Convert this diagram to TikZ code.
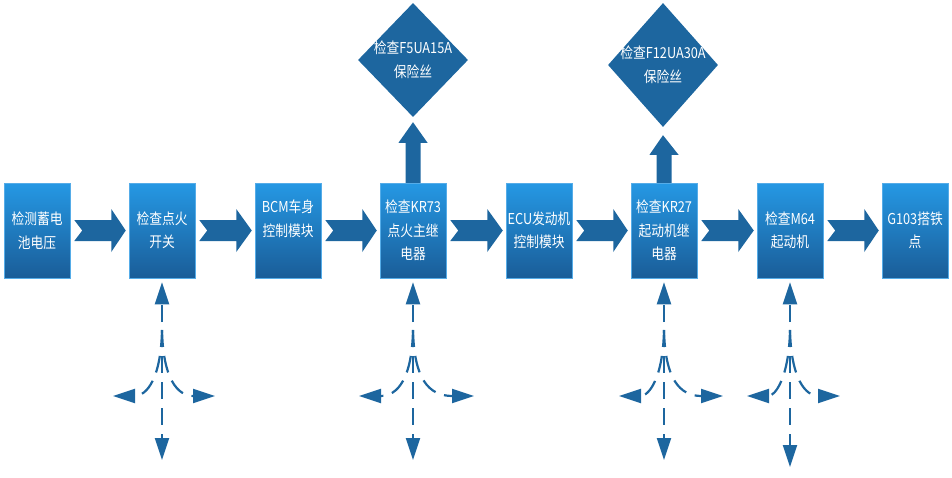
\documentclass[tikz,border=0pt]{standalone}
\usepackage{fontspec}
\setmainfont{Noto Sans CJK SC}[FakeStretch=0.85]
\usetikzlibrary{arrows.meta,shapes.geometric,calc}
\definecolor{arrowc}{HTML}{1D669F}
\definecolor{boxtop}{HTML}{2598E4}
\definecolor{boxbot}{HTML}{1A5D98}
\definecolor{boxedge}{HTML}{55ACE8}
\newcommand\chev[2]{%
  \fill[arrowc] ($(#1.east)+(4,-10.5)$) -- ($(#1.east)+(41,-10.5)$) -- ($(#1.east)+(41,-21.5)$)
   -- ($(#2.west)+(-3,0)$) -- ($(#1.east)+(41,21.5)$) -- ($(#1.east)+(41,10.5)$)
   -- ($(#1.east)+(4,10.5)$) -- ($(#1.east)+(12,0)$) -- cycle;}
\newcommand\fanarrows[5]{%
  \coordinate (#1f) at (#2,330);
  \coordinate (#1u) at (#2,322);
  \coordinate (#1d) at (#2,#5);
  \coordinate (#1l) at ({#2-#3},396);
  \coordinate (#1r) at ({#2+#4},396);
  \draw[dsh,tipd,shorten >=4pt] (#1u) -- (#1.south);
  \draw[dsh,tipd] (#1f) -- (#1d);
  \draw[dsh,tipd] (#1f) .. controls ({#2-1},378) and ({#2-15},396) .. (#1l);
  \draw[dsh,tipd] (#1f) .. controls ({#2+1},378) and ({#2+15},396) .. (#1r);}
\begin{document}
\begin{tikzpicture}[x=1pt,y=-1pt,
  stepbox/.style={rectangle,minimum width=66pt,minimum height=95pt,inner sep=0pt,
    top color=boxtop,bottom color=boxbot,draw=boxedge,line width=0.5pt,
    text=white,align=center,font=\fontsize{15}{23.5}\selectfont},
  diam/.style={diamond,fill=arrowc,minimum width=110pt,inner sep=0pt,
    text=white,align=center,font=\fontsize{15}{24}\selectfont},
  dsh/.style={draw=arrowc,line width=2.2pt,dash pattern=on 17pt off 9pt},
  tipd/.style={-{Triangle[length=22pt,width=14pt]}}]
\useasboundingbox (0,0) rectangle (952,477);
\node[stepbox] (b1) at (37,230.5) {检测蓄电\\池电压};
\node[stepbox] (b2) at (162,230.5) {检查点火\\开关};
\node[stepbox] (b3) at (288,230.5) {BCM车身\\控制模块\\\phantom{电器}};
\node[stepbox] (b4) at (413,230.5) {检查KR73\\点火主继\\电器};
\node[stepbox] (b5) at (539,230.5) {ECU发动机\\控制模块};
\node[stepbox] (b6) at (664,230.5) {检查KR27\\起动机继\\电器};
\node[stepbox] (b7) at (790,230.5) {检查M64\\起动机};
\node[stepbox] (b8) at (915,230.5) {G103搭铁\\点};
\node[diam,minimum height=114pt] (d1) at (413,60) {\makebox[0pt]{检查F5UA15A}\\\makebox[0pt]{保险丝}};
\node[diam,minimum height=124pt] (d2) at (663,65) {\makebox[0pt]{检查F12UA30A}\\\makebox[0pt]{保险丝}};
\chev{b1}{b2}
\chev{b2}{b3}
\chev{b3}{b4}
\chev{b4}{b5}
\chev{b5}{b6}
\chev{b6}{b7}
\chev{b7}{b8}
\fill[arrowc] ($(b4.north)+(-7.5,0)$) -- ($(b4.north)+(-7.5,-40)$) -- ($(b4.north)+(-14.5,-40)$)
  -- ($(d1.south)+(0,5)$) -- ($(b4.north)+(14.5,-40)$) -- ($(b4.north)+(7.5,-40)$)
  -- ($(b4.north)+(7.5,0)$) -- cycle;
\fill[arrowc] ($(b6.north)+(-7.5,0)$) -- ($(b6.north)+(-7.5,-28)$) -- ($(b6.north)+(-14.5,-28)$)
  -- ($(d2.south)+(0,8)$) -- ($(b6.north)+(14.5,-28)$) -- ($(b6.north)+(7.5,-28)$)
  -- ($(b6.north)+(7.5,0)$) -- cycle;
\fanarrows{b2}{162}{49}{53}{460}
\fanarrows{b4}{413}{54}{61}{460}
\fanarrows{b6}{664}{45}{59}{460}
\fanarrows{b7}{790}{43}{50}{467}
\end{tikzpicture}
\end{document}
